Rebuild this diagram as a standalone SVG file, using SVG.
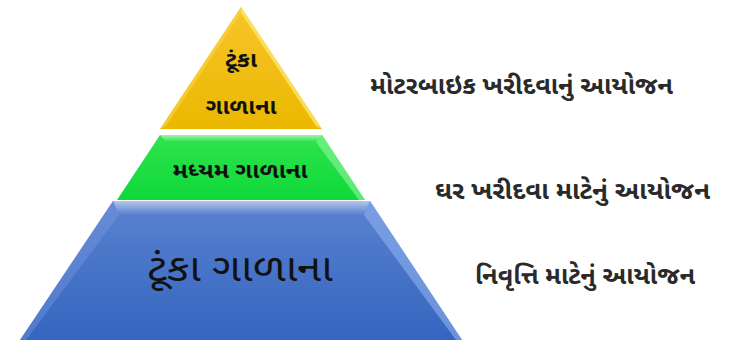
<svg xmlns="http://www.w3.org/2000/svg" width="750" height="342" viewBox="0 0 750 342">
  <defs>
    <linearGradient id="gTop" x1="0" y1="0" x2="0" y2="1">
      <stop offset="0" stop-color="#f7c42a"/>
      <stop offset="1" stop-color="#eab800"/>
    </linearGradient>
    <linearGradient id="gMid" x1="0" y1="0" x2="0" y2="1">
      <stop offset="0" stop-color="#2fe34c"/>
      <stop offset="1" stop-color="#0fd93a"/>
    </linearGradient>
    <linearGradient id="gBot" x1="0" y1="0" x2="0" y2="1">
      <stop offset="0" stop-color="#5a82d0"/>
      <stop offset="1" stop-color="#3465bf"/>
    </linearGradient>
    <linearGradient id="shine" x1="0" y1="0" x2="0" y2="1">
      <stop offset="0" stop-color="#ffffff" stop-opacity="0.55"/>
      <stop offset="1" stop-color="#ffffff" stop-opacity="0"/>
    </linearGradient>
  </defs>
  <style>
    .lbl { font-family: "Noto Sans Gujarati", "Noto Sans", "Lohit Gujarati", sans-serif; fill: #111; text-anchor: middle; }
    .side { font-family: "Noto Sans Gujarati", "Noto Sans", "Lohit Gujarati", sans-serif; fill: #2a2a2a; font-weight: bold; }
  </style>
  <rect width="750" height="342" fill="#ffffff"/>

  <!-- top tier -->
  <g id="tier-top">
    <polygon points="241,7 160,129 322,129" fill="url(#gTop)"/>
    <polygon points="241,7 322,129 316,126 241,13" fill="#ffe56a" opacity="0.8"/>
    <polygon points="241,7 160,129 166,126 241,13" fill="#f9d24a" opacity="0.7"/>
    <text class="lbl" x="241" y="67" font-size="21" font-weight="bold" textLength="32" lengthAdjust="spacingAndGlyphs">ટૂંકા</text>
    <text class="lbl" x="241" y="114" font-size="21" font-weight="bold" textLength="71" lengthAdjust="spacingAndGlyphs">ગાળાના</text>
  </g>

  <!-- middle tier -->
  <g id="tier-mid">
    <polygon points="160,135 322,135 365,200 117,200" fill="url(#gMid)"/>
    <polygon points="160,135 322,135 316,142 166,142" fill="url(#shine)"/>
    <polygon points="322,135 365,200 359,200 316,142" fill="#8ff59e" opacity="0.6"/>
    <text class="lbl" x="240" y="178" font-size="21" font-weight="bold" textLength="135" lengthAdjust="spacingAndGlyphs">મધ્યમ ગાળાના</text>
  </g>

  <!-- bottom tier -->
  <g id="tier-bot">
    <polygon points="113,201 370,201 462,340 20,340" fill="url(#gBot)"/>
    <polygon points="113,201 370,201 364,215 119,215" fill="url(#shine)"/>
    <polygon points="370,201 462,340 456,340 364,215" fill="#8fb0ee" opacity="0.6"/>
    <polygon points="113,201 20,340 26,340 119,215" fill="#7a9ce0" opacity="0.4"/>
    <text class="lbl" x="240" y="281" font-size="38" textLength="186" lengthAdjust="spacingAndGlyphs">ટૂંકા ગાળાના</text>
  </g>

  <!-- side captions -->
  <g id="captions">
    <text class="side" x="370" y="94" font-size="24" textLength="303" lengthAdjust="spacingAndGlyphs">મોટરબાઇક ખરીદવાનું આયોજન</text>
    <text class="side" x="435" y="199" font-size="24" textLength="275" lengthAdjust="spacingAndGlyphs">ઘર ખરીદવા માટેનું આયોજન</text>
    <text class="side" x="475" y="284" font-size="24" font-weight="600" textLength="220" lengthAdjust="spacingAndGlyphs">નિવૃત્તિ માટેનું આયોજન</text>
  </g>
</svg>
